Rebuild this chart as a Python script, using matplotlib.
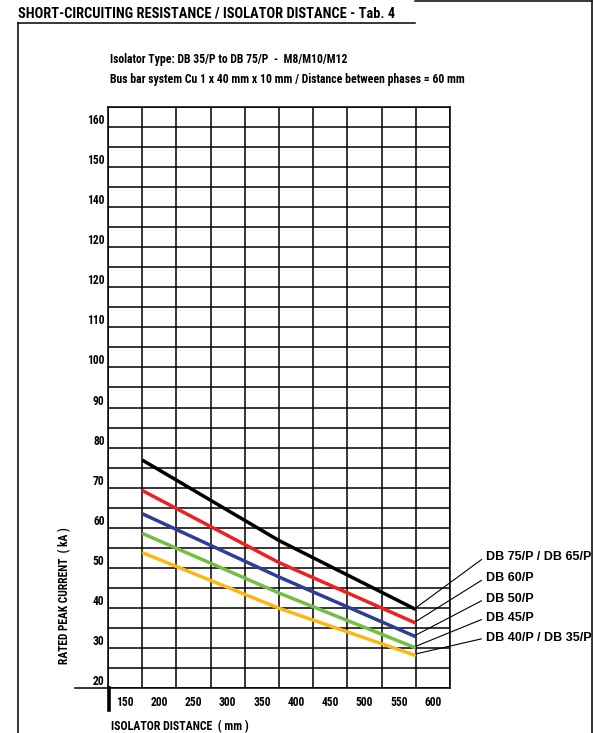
import numpy as np
import matplotlib
matplotlib.use('Agg')
import matplotlib.pyplot as plt
from matplotlib.lines import Line2D
from matplotlib import font_manager

# chart data
distance = [175, 375, 575]
series_names = ['DB 75/P / DB 65/P', 'DB 60/P', 'DB 50/P', 'DB 45/P', 'DB 40/P / DB 35/P']
db75 = [76.9, 56.8, 39.6]
db60 = [69.3, 51.3, 36.2]
db50 = [63.5, 47.7, 32.8]
db45 = [58.6, 43.7, 30.0]
db40 = [53.8, 39.9, 28.1]
x_labels = [150, 200, 250, 300, 350, 400, 450, 500, 550, 600]
y_ticks = [160, 150, 140, 130, 120, 110, 100, 90, 80, 70, 60, 50, 40, 30, 20]
y_labels = ['160', '150', '140', '120', '120', '110', '100', '90', '80', '70',
            '60', '50', '40', '30', '20']

colors = ['#000000', '#ED2124', '#2E3D98', '#72BF44', '#FDB714']
label_y = [52.8, 47.5, 42.3, 37.5, 32.5]   # label anchors (layout)
W, H = 594, 733


def px(x, y):
    '''pixel position -> figure fraction'''
    return x / W, 1 - y / H


def narrow_font():
    '''pick the narrowest bold sans that is installed'''
    fonts = font_manager.fontManager.ttflist
    names = {f.name for f in fonts}
    for name in ['Liberation Sans Narrow', 'Roboto Condensed', 'Open Sans Condensed',
                 'Noto Sans Condensed']:
        if name in names:
            return {'family': [name, 'DejaVu Sans']}
    if any(f.name == 'DejaVu Sans' and str(f.stretch) in ('condensed', '75')
           for f in fonts):
        return {'family': ['DejaVu Sans'], 'fontstretch': 'condensed'}
    return {'family': ['Liberation Sans', 'DejaVu Sans']}


NARROW = narrow_font()

fig = plt.figure(figsize=(W / 100, H / 100), dpi=100)
ax = fig.add_axes([108 / W, 1 - 688 / H, (450 - 108) / W, (688 - 107) / H])

for vals, c in zip([db75, db60, db50, db45, db40], colors):
    ax.plot(distance, vals, color=c, lw=2.5, solid_capstyle='butt', zorder=3)

# leader lines and labels
for vals, name, ly in zip([db75, db60, db50, db45, db40], series_names, label_y):
    ax.annotate(name, xy=(distance[-1], vals[-1] + 0.4), xytext=(677, ly),
                textcoords='data', va='center', ha='left', fontsize=9,
                fontweight='bold', family=['Liberation Sans', 'DejaVu Sans'],
                arrowprops=dict(arrowstyle='-', color='black', lw=0.8,
                                shrinkA=1, shrinkB=0, relpos=(0, 0.5)),
                annotation_clip=False)

ax.set_xlim(125, 625)
ax.set_ylim(20, 165)
ax.set_xticks(x_labels)
ax.set_xticklabels([str(v) for v in x_labels])
ax.set_xticks(np.arange(125, 626, 50), minor=True)
ax.set_yticks(y_ticks)
ax.set_yticklabels(y_labels)
ax.set_yticks(np.arange(25, 166, 10), minor=True)
ax.tick_params(which='both', length=0)
ax.tick_params(axis='x', pad=6)
ax.tick_params(axis='y', pad=2.5)
ticklabels = ax.get_xticklabels() + ax.get_yticklabels()
for t in ticklabels:
    t.set_fontproperties(font_manager.FontProperties(
        family=NARROW['family'], weight='bold', size=8,
        stretch=NARROW.get('fontstretch', 'normal')))
for t in ax.get_yticklabels():
    t.set_verticalalignment('bottom')

ax.grid(which='minor', axis='x', color='black', lw=1.1)
ax.grid(which='both', axis='y', color='black', lw=1.1)
for s in ax.spines.values():
    s.set_linewidth(1.1)

# axis titles and header, each with the width it has in the reference
texts = []
texts.append((fig.text(*px(65, 596), 'RATED PEAK CURRENT  ( kA )', rotation=90,
                       ha='center', va='center', fontsize=9, fontweight='bold',
                       **NARROW), 138))
texts.append((fig.text(*px(111, 720), 'ISOLATOR DISTANCE  ( mm )', ha='left',
                       va='top', fontsize=9, fontweight='bold', **NARROW), 139))
texts.append((fig.text(*px(18, 21), 'SHORT-CIRCUITING RESISTANCE / ISOLATOR DISTANCE - Tab. 4',
                       ha='left', va='bottom', fontsize=11.5, fontweight='bold',
                       **NARROW), 378))
texts.append((fig.text(*px(110, 59), 'Isolator Type: DB 35/P to DB 75/P  -  M8/M10/M12',
                       ha='left', va='center', fontsize=8.5, fontweight='bold',
                       **NARROW), 240))
texts.append((fig.text(*px(110, 80),
                       'Bus bar system Cu 1 x 40 mm x 10 mm / Distance between phases = 60 mm',
                       ha='left', va='center', fontsize=8.5, fontweight='bold',
                       **NARROW), 368))

renderer = fig.canvas.get_renderer()
for t, target in texts:
    bb = t.get_window_extent(renderer)
    size = max(bb.width, bb.height)
    t.set_fontsize(min(t.get_fontsize(), t.get_fontsize() * target / size))

# tick labels: '160' is about 16-17 px wide in the reference
ref = ax.get_yticklabels()[0]
w = ref.get_window_extent(renderer).width
tick_size = min(9, 8 * 17.5 / w)
for t in ticklabels:
    t.set_fontsize(tick_size)

# page frame and small extras
frame = [((18, 23), (18, 733)), ((18, 23), (415, 23)), ((415, 1), (592, 1)),
         ((592, 1), (592, 733)), ((75, 688), (108, 688))]
for (x0, y0), (x1, y1) in frame:
    a, b = px(x0, y0), px(x1, y1)
    fig.add_artist(Line2D([a[0], b[0]], [a[1], b[1]], color='black', lw=1.1))
a, b = px(108.5, 688), px(108.5, 710)
fig.add_artist(Line2D([a[0], b[0]], [a[1], b[1]], color='black', lw=2.6))

fig.savefig('out.png', dpi=100)
